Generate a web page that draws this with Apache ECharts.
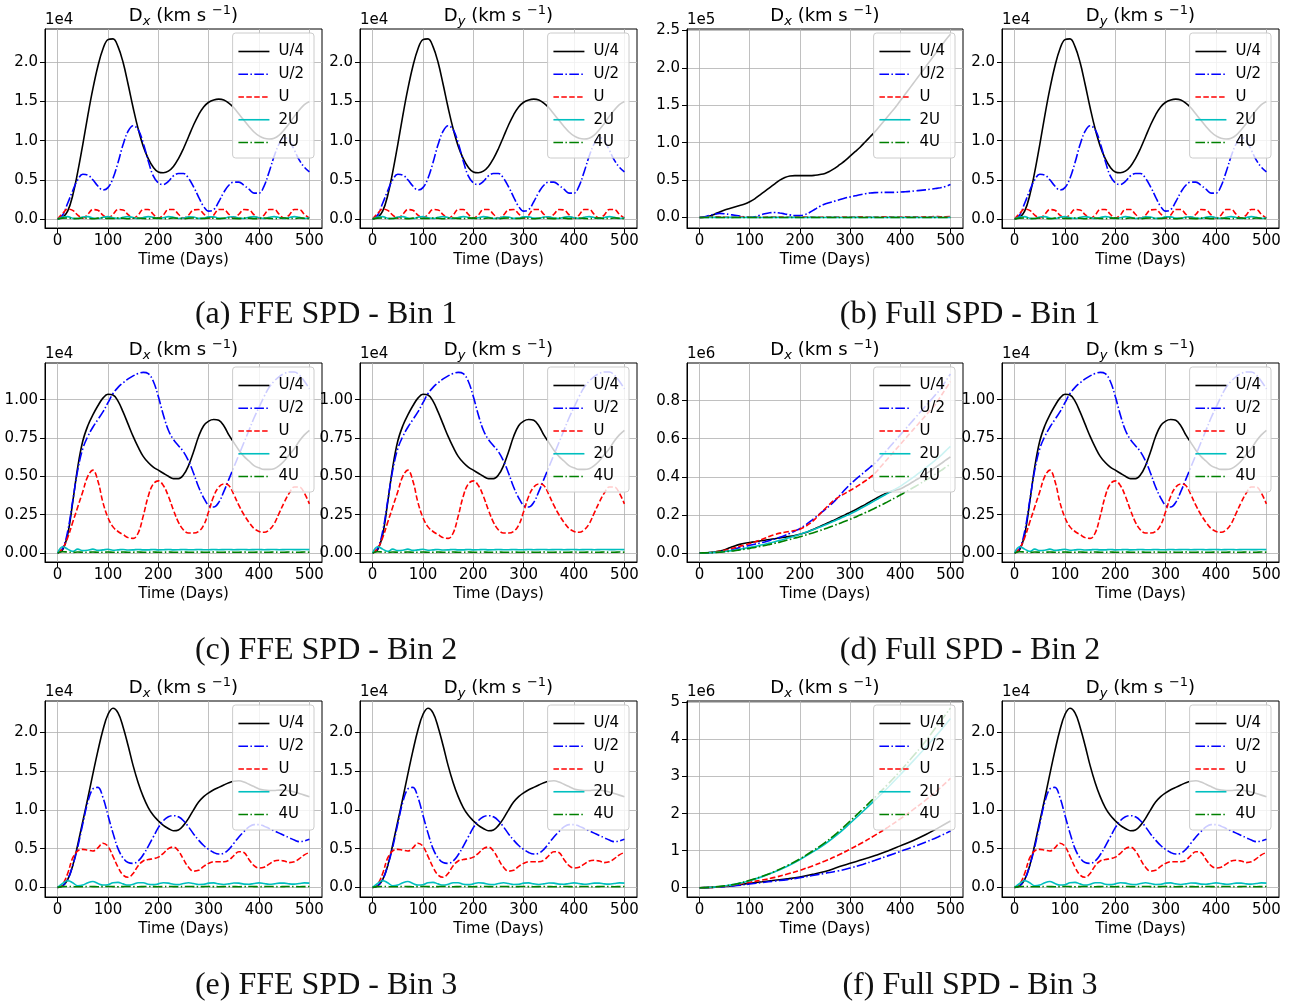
<!DOCTYPE html>
<html>
<head>
<meta charset="utf-8">
<script src="https://cdn.jsdelivr.net/npm/echarts@6/dist/echarts.min.js"></script>
<style>
  html, body { margin: 0; padding: 0; background: #ffffff; }
  #chart { width: 1295px; height: 1006px; }
</style>
</head>
<body>
<div id="chart"></div>
<script>
// ---- sampling days ----
const days = [0, 10, 20, 30, 40, 50, 60, 70, 80, 90,
  100, 110, 120, 130, 140, 150, 160, 170, 180, 190,
  200, 210, 220, 230, 240, 250, 260, 270, 280, 290,
  300, 310, 320, 330, 340, 350, 360, 370, 380, 390,
  400, 410, 420, 430, 440, 450, 460, 470, 480, 490, 500];
const daysCoarse = [0, 25, 50, 75, 100, 125, 150, 175, 200, 225, 250,
  275, 300, 325, 350, 375, 400, 425, 450, 475, 500];

// ---- FFE SPD, bin 1 (units of 1e4 km s^-1) ----
const ffe1_U4 = [0, 0.02, 0.1, 0.3, 0.6, 0.95, 1.32, 1.66, 1.95, 2.17,
  2.29, 2.3, 2.2, 2.0, 1.72, 1.42, 1.15, 0.93, 0.77, 0.66,
  0.6, 0.59, 0.61, 0.67, 0.77, 0.9, 1.05, 1.2, 1.33, 1.43,
  1.49, 1.52, 1.53, 1.52, 1.48, 1.42, 1.34, 1.26, 1.18, 1.11,
  1.06, 1.03, 1.02, 1.03, 1.07, 1.14, 1.22, 1.31, 1.39, 1.46, 1.5];
const ffe1_U2 = [0, 0.05, 0.2, 0.36, 0.5, 0.57, 0.56, 0.5, 0.42, 0.37,
  0.4, 0.52, 0.72, 0.95, 1.12, 1.19, 1.14, 0.97, 0.74, 0.55,
  0.46, 0.44, 0.48, 0.55, 0.58, 0.58, 0.52, 0.41, 0.28, 0.16,
  0.1, 0.12, 0.22, 0.34, 0.43, 0.47, 0.47, 0.43, 0.38, 0.33,
  0.33, 0.42, 0.6, 0.8, 0.96, 1.04, 1.0, 0.88, 0.75, 0.66, 0.6];
const ffe1_U1 = [0, 0.07, 0.125, 0.11, 0.05, 0.01, 0.06, 0.12, 0.11, 0.05,
  0.01, 0.06, 0.12, 0.115, 0.055, 0.01, 0.05, 0.12, 0.12, 0.06,
  0.01, 0.05, 0.12, 0.12, 0.06, 0.01, 0.05, 0.115, 0.12, 0.065,
  0.01, 0.05, 0.12, 0.12, 0.06, 0.01, 0.06, 0.12, 0.115, 0.055,
  0.01, 0.05, 0.12, 0.12, 0.06, 0.01, 0.05, 0.12, 0.12, 0.06, 0.01];
const ffe1_2U = [0, 0.025, 0.03, 0.01, 0.005, 0.025, 0.03, 0.012, 0.005, 0.022,
  0.03, 0.015, 0.005, 0.02, 0.03, 0.018, 0.005, 0.018, 0.03, 0.02,
  0.006, 0.015, 0.03, 0.022, 0.006, 0.012, 0.028, 0.025, 0.008, 0.01,
  0.027, 0.027, 0.01, 0.008, 0.025, 0.028, 0.012, 0.006, 0.022, 0.03,
  0.015, 0.005, 0.02, 0.03, 0.018, 0.005, 0.017, 0.03, 0.02, 0.006, 0.015];
const ffe1_4U = [0, 0.01, 0.012, 0.004, 0.006, 0.012, 0.008, 0.003, 0.01, 0.012,
  0.005, 0.005, 0.012, 0.009, 0.003, 0.009, 0.012, 0.006, 0.004, 0.011,
  0.011, 0.004, 0.006, 0.012, 0.008, 0.003, 0.01, 0.012, 0.005, 0.005,
  0.012, 0.009, 0.003, 0.009, 0.012, 0.006, 0.004, 0.011, 0.011, 0.004,
  0.006, 0.012, 0.008, 0.003, 0.01, 0.012, 0.005, 0.005, 0.012, 0.009, 0.004];

// ---- FFE SPD, bin 2 (units of 1e4 km s^-1) ----
const ffe2_U4 = [0, 0.02, 0.12, 0.33, 0.56, 0.73, 0.83, 0.9, 0.96, 1.01,
  1.035, 1.03, 0.99, 0.92, 0.84, 0.76, 0.69, 0.63, 0.59, 0.56,
  0.54, 0.52, 0.5, 0.485, 0.485, 0.51, 0.57, 0.66, 0.76, 0.83,
  0.86, 0.87, 0.865, 0.83, 0.77, 0.72, 0.67, 0.63, 0.6, 0.57,
  0.555, 0.545, 0.545, 0.55, 0.57, 0.6, 0.64, 0.68, 0.73, 0.77, 0.8];
const ffe2_U2 = [0, 0.03, 0.14, 0.34, 0.54, 0.68, 0.76, 0.82, 0.87, 0.92,
  0.98, 1.04, 1.08, 1.11, 1.135, 1.155, 1.17, 1.178, 1.17, 1.12,
  1.02, 0.9, 0.8, 0.74, 0.7, 0.66, 0.6, 0.52, 0.43, 0.36,
  0.31, 0.3, 0.33, 0.4, 0.48, 0.56, 0.64, 0.72, 0.8, 0.88,
  0.95, 1.02, 1.08, 1.12, 1.15, 1.17, 1.18, 1.18, 1.16, 1.12, 1.07];
const ffe2_U1 = [0, 0.03, 0.1, 0.2, 0.3, 0.4, 0.5, 0.54, 0.47, 0.33,
  0.23, 0.17, 0.14, 0.12, 0.1, 0.095, 0.13, 0.24, 0.37, 0.45,
  0.47, 0.44, 0.37, 0.28, 0.2, 0.15, 0.13, 0.13, 0.14, 0.18,
  0.27, 0.37, 0.43, 0.45, 0.44, 0.38, 0.31, 0.25, 0.2, 0.16,
  0.14, 0.135, 0.15, 0.19, 0.26, 0.33, 0.39, 0.43, 0.43, 0.39, 0.32];
const ffe2_2U = [0, 0.04, 0.025, 0.01, 0.025, 0.015, 0.018, 0.025, 0.017, 0.02,
  0.024, 0.018, 0.02, 0.023, 0.019, 0.02, 0.023, 0.02, 0.02, 0.023,
  0.02, 0.021, 0.023, 0.02, 0.021, 0.023, 0.021, 0.021, 0.023, 0.021,
  0.021, 0.023, 0.021, 0.022, 0.023, 0.021, 0.022, 0.023, 0.021, 0.022,
  0.023, 0.021, 0.022, 0.023, 0.021, 0.022, 0.023, 0.022, 0.022, 0.023, 0.022];
const ffe2_4U = [0, 0.008, 0.006, 0.004, 0.006, 0.005, 0.005, 0.006, 0.005, 0.005,
  0.006, 0.005, 0.005, 0.006, 0.005, 0.005, 0.006, 0.005, 0.005, 0.006,
  0.005, 0.005, 0.006, 0.005, 0.005, 0.006, 0.005, 0.005, 0.006, 0.005,
  0.005, 0.006, 0.005, 0.005, 0.006, 0.005, 0.005, 0.006, 0.005, 0.005,
  0.006, 0.005, 0.005, 0.006, 0.005, 0.005, 0.006, 0.005, 0.005, 0.006, 0.005];

// ---- FFE SPD, bin 3 (units of 1e4 km s^-1) ----
const ffe3_U4 = [0, 0.02, 0.1, 0.28, 0.55, 0.85, 1.15, 1.46, 1.76, 2.03,
  2.23, 2.31, 2.25, 2.07, 1.83, 1.57, 1.35, 1.17, 1.03, 0.93,
  0.86, 0.8, 0.76, 0.73, 0.74, 0.8, 0.89, 1.0, 1.1, 1.17,
  1.22, 1.26, 1.29, 1.32, 1.35, 1.37, 1.375, 1.36, 1.33, 1.3,
  1.27, 1.255, 1.25, 1.25, 1.255, 1.255, 1.245, 1.23, 1.21, 1.19, 1.17];
const ffe3_U2 = [0, 0.02, 0.1, 0.28, 0.52, 0.82, 1.1, 1.27, 1.29, 1.16,
  0.93, 0.7, 0.5, 0.38, 0.32, 0.31, 0.34, 0.42, 0.53, 0.65,
  0.77, 0.86, 0.91, 0.925, 0.91, 0.86, 0.78, 0.69, 0.61, 0.54,
  0.49, 0.45, 0.43, 0.44, 0.49, 0.57, 0.65, 0.72, 0.78, 0.81,
  0.81, 0.79, 0.76, 0.73, 0.7, 0.67, 0.64, 0.61, 0.59, 0.6, 0.62];
const ffe3_U1 = [0, 0.04, 0.18, 0.38, 0.47, 0.49, 0.48, 0.47, 0.51, 0.57,
  0.53, 0.4, 0.26, 0.16, 0.13, 0.18, 0.28, 0.34, 0.36, 0.37,
  0.39, 0.44, 0.5, 0.52, 0.47, 0.36, 0.26, 0.21, 0.22, 0.27,
  0.31, 0.33, 0.33, 0.33, 0.35, 0.41, 0.46, 0.45, 0.36, 0.28,
  0.25, 0.26, 0.3, 0.34, 0.35, 0.34, 0.32, 0.33, 0.37, 0.42, 0.45];
const ffe3_2U = [0, 0.05, 0.085, 0.06, 0.02, 0.03, 0.06, 0.075, 0.05, 0.03,
  0.035, 0.06, 0.065, 0.045, 0.03, 0.04, 0.06, 0.06, 0.04, 0.035,
  0.045, 0.06, 0.055, 0.04, 0.035, 0.05, 0.06, 0.05, 0.038, 0.04,
  0.055, 0.058, 0.045, 0.038, 0.045, 0.057, 0.055, 0.042, 0.04, 0.05,
  0.058, 0.05, 0.04, 0.045, 0.055, 0.055, 0.045, 0.042, 0.05, 0.058, 0.055];
const ffe3_4U = [0, 0.01, 0.012, 0.01, 0.008, 0.009, 0.011, 0.01, 0.009, 0.01,
  0.011, 0.01, 0.009, 0.01, 0.011, 0.01, 0.009, 0.01, 0.011, 0.01,
  0.009, 0.01, 0.011, 0.01, 0.009, 0.01, 0.011, 0.01, 0.009, 0.01,
  0.011, 0.01, 0.009, 0.01, 0.011, 0.01, 0.009, 0.01, 0.011, 0.01,
  0.009, 0.01, 0.011, 0.01, 0.009, 0.01, 0.011, 0.01, 0.009, 0.01, 0.011];

// ---- Full SPD, bin 1 (units of 1e5 km s^-1) ----
const full1_U4 = [0, 0.005, 0.02, 0.045, 0.075, 0.1, 0.12, 0.14, 0.16, 0.18,
  0.21, 0.25, 0.3, 0.35, 0.4, 0.45, 0.5, 0.535, 0.555, 0.56,
  0.56, 0.56, 0.56, 0.565, 0.575, 0.59, 0.62, 0.66, 0.71, 0.76,
  0.82, 0.88, 0.94, 1.01, 1.08, 1.15, 1.23, 1.31, 1.39, 1.47,
  1.56, 1.65, 1.74, 1.83, 1.92, 2.01, 2.1, 2.19, 2.28, 2.37, 2.45];
const full1_U2 = [0, 0.01, 0.03, 0.045, 0.055, 0.05, 0.04, 0.03, 0.02, 0.008,
  0.003, 0.01, 0.03, 0.05, 0.063, 0.067, 0.06, 0.048, 0.035, 0.025,
  0.025, 0.04, 0.07, 0.11, 0.15, 0.18, 0.2, 0.22, 0.24, 0.26,
  0.275, 0.29, 0.305, 0.318, 0.328, 0.333, 0.335, 0.336, 0.336, 0.337,
  0.34, 0.345, 0.35, 0.357, 0.363, 0.37, 0.378, 0.387, 0.398, 0.415, 0.44];
const full1_U1 = [0, 0.003, 0.008, 0.01, 0.008, 0.004, 0.002, 0.003, 0.006, 0.008,
  0.006, 0.003, 0.002, 0.004, 0.007, 0.008, 0.006, 0.004, 0.003, 0.005,
  0.007, 0.008, 0.006, 0.004, 0.004, 0.006, 0.008, 0.008, 0.006, 0.005,
  0.006, 0.008, 0.009, 0.008, 0.006, 0.006, 0.008, 0.01, 0.009, 0.007,
  0.007, 0.009, 0.011, 0.01, 0.008, 0.009, 0.011, 0.012, 0.011, 0.01, 0.012];
const full1_2U = [0, 0.001, 0.002, 0.002, 0.001, 0.001, 0.002, 0.002, 0.001, 0.001,
  0.002, 0.002, 0.001, 0.001, 0.002, 0.002, 0.001, 0.001, 0.002, 0.002,
  0.001, 0.001, 0.002, 0.002, 0.001, 0.001, 0.002, 0.002, 0.001, 0.001,
  0.002, 0.002, 0.001, 0.001, 0.002, 0.002, 0.001, 0.001, 0.002, 0.002,
  0.001, 0.001, 0.002, 0.002, 0.001, 0.001, 0.002, 0.002, 0.001, 0.001, 0.002];
const full1_4U = [0, 0.0005, 0.001, 0.001, 0.0005, 0.0005, 0.001, 0.001, 0.0005, 0.0005,
  0.001, 0.001, 0.0005, 0.0005, 0.001, 0.001, 0.0005, 0.0005, 0.001, 0.001,
  0.0005, 0.0005, 0.001, 0.001, 0.0005, 0.0005, 0.001, 0.001, 0.0005, 0.0005,
  0.001, 0.001, 0.0005, 0.0005, 0.001, 0.001, 0.0005, 0.0005, 0.001, 0.001,
  0.0005, 0.0005, 0.001, 0.001, 0.0005, 0.0005, 0.001, 0.001, 0.0005, 0.0005, 0.001];

// ---- Full SPD, bin 2 (units of 1e6 km s^-1) ----
const full2_U4 = [0, 0.0005, 0.002, 0.005, 0.01, 0.017, 0.027, 0.037, 0.045, 0.051,
  0.055, 0.059, 0.063, 0.067, 0.071, 0.075, 0.079, 0.083, 0.087, 0.092,
  0.098, 0.106, 0.116, 0.127, 0.139, 0.151, 0.163, 0.175, 0.188, 0.2,
  0.213, 0.226, 0.24, 0.254, 0.269, 0.284, 0.298, 0.311, 0.322, 0.33,
  0.336, 0.35, 0.365, 0.381, 0.397, 0.414, 0.431, 0.449, 0.467, 0.486, 0.505];
const full2_U2 = [0, 0, 0.001, 0.003, 0.006, 0.01, 0.015, 0.021, 0.028, 0.034,
  0.04, 0.046, 0.052, 0.058, 0.065, 0.073, 0.082, 0.092, 0.103, 0.115,
  0.128, 0.145, 0.164, 0.185, 0.207, 0.228, 0.25, 0.275, 0.303, 0.333,
  0.36, 0.384, 0.406, 0.428, 0.45, 0.472, 0.5, 0.53, 0.56, 0.59,
  0.62, 0.65, 0.68, 0.71, 0.74, 0.77, 0.8, 0.83, 0.86, 0.9, 0.94];
const full2_U1 = [0, 0, 0.002, 0.005, 0.009, 0.014, 0.02, 0.027, 0.035, 0.042,
  0.05, 0.058, 0.067, 0.077, 0.088, 0.097, 0.104, 0.109, 0.113, 0.118,
  0.125, 0.138, 0.155, 0.178, 0.205, 0.232, 0.258, 0.28, 0.298, 0.313,
  0.328, 0.343, 0.36, 0.378, 0.397, 0.42, 0.45, 0.48, 0.51, 0.54,
  0.57, 0.6, 0.63, 0.66, 0.69, 0.72, 0.75, 0.78, 0.82, 0.86, 0.9];
const full2_2U = [0, 0.0005, 0.0015, 0.003, 0.005, 0.008, 0.011, 0.015, 0.019, 0.024,
  0.029, 0.034, 0.04, 0.046, 0.052, 0.059, 0.066, 0.073, 0.081, 0.089,
  0.098, 0.107, 0.116, 0.126, 0.136, 0.147, 0.158, 0.169, 0.181, 0.193,
  0.205, 0.218, 0.232, 0.246, 0.261, 0.276, 0.291, 0.306, 0.32, 0.335,
  0.35, 0.368, 0.386, 0.405, 0.425, 0.445, 0.466, 0.488, 0.51, 0.535, 0.56];
const full2_4U = [0, 0.0004, 0.0012, 0.0025, 0.004, 0.006, 0.009, 0.012, 0.016, 0.02,
  0.024, 0.029, 0.034, 0.039, 0.045, 0.051, 0.057, 0.064, 0.071, 0.078,
  0.085, 0.093, 0.101, 0.109, 0.118, 0.127, 0.136, 0.146, 0.156, 0.166,
  0.177, 0.188, 0.199, 0.211, 0.223, 0.236, 0.249, 0.262, 0.276, 0.29,
  0.304, 0.319, 0.334, 0.349, 0.365, 0.381, 0.397, 0.414, 0.431, 0.449, 0.467];

// ---- Full SPD, bin 3 (units of 1e6 km s^-1), sampled on daysCoarse ----
const full3_U4 = [0, 0.01, 0.035, 0.075, 0.12, 0.16, 0.2, 0.24, 0.29, 0.36, 0.44,
  0.55, 0.66, 0.76, 0.87, 0.99, 1.13, 1.27, 1.43, 1.61, 1.8];
const full3_U2 = [0, 0.008, 0.03, 0.06, 0.1, 0.14, 0.18, 0.22, 0.27, 0.33, 0.39,
  0.45, 0.53, 0.63, 0.74, 0.86, 0.98, 1.1, 1.23, 1.37, 1.53];
const full3_U1 = [0, 0.01, 0.04, 0.09, 0.15, 0.21, 0.28, 0.37, 0.47, 0.59, 0.72,
  0.87, 1.04, 1.22, 1.42, 1.63, 1.86, 2.1, 2.36, 2.64, 2.95];
const full3_2U = [0, 0.014, 0.048, 0.105, 0.19, 0.3, 0.43, 0.58, 0.76, 0.96, 1.18,
  1.44, 1.74, 2.05, 2.37, 2.7, 3.05, 3.41, 3.78, 4.16, 4.57];
const full3_4U = [0, 0.015, 0.05, 0.11, 0.2, 0.31, 0.44, 0.6, 0.78, 0.99, 1.22,
  1.49, 1.8, 2.12, 2.45, 2.79, 3.15, 3.54, 3.95, 4.4, 4.85];

// ---- axis ticks and labels ----
const seriesNames = ['U/4', 'U/2', 'U', '2U', '4U'];
const xTicks = [0, 100, 200, 300, 400, 500];
const ticksFFE1 = [0, 0.5, 1.0, 1.5, 2.0];
const ticksFFE2 = [0, 0.25, 0.5, 0.75, 1.0];
const ticksFFE3 = [0, 0.5, 1.0, 1.5, 2.0];
const ticksFull1 = [0, 0.5, 1.0, 1.5, 2.0, 2.5];
const ticksFull2 = [0, 0.2, 0.4, 0.6, 0.8];
const ticksFull3 = [0, 1, 2, 3, 4, 5];
const captions = [
  ['(a) FFE SPD - Bin 1', '(b) Full SPD - Bin 1'],
  ['(c) FFE SPD - Bin 2', '(d) Full SPD - Bin 2'],
  ['(e) FFE SPD - Bin 3', '(f) Full SPD - Bin 3']
];

// ---- panel definitions per bin ----
const ffeBins = [
  { x: days, lines: [ffe1_U4, ffe1_U2, ffe1_U1, ffe1_2U, ffe1_4U], expo: '1e4', min: -0.1155, max: 2.4255, ticks: ticksFFE1, dec: 1 },
  { x: days, lines: [ffe2_U4, ffe2_U2, ffe2_U1, ffe2_2U, ffe2_4U], expo: '1e4', min: -0.059, max: 1.239, ticks: ticksFFE2, dec: 2 },
  { x: days, lines: [ffe3_U4, ffe3_U2, ffe3_U1, ffe3_2U, ffe3_4U], expo: '1e4', min: -0.124, max: 2.404, ticks: ticksFFE3, dec: 1 }
];
const fullBins = [
  { x: days, lines: [full1_U4, full1_U2, full1_U1, full1_2U, full1_4U], expo: '1e5', min: -0.14, max: 2.52, ticks: ticksFull1, dec: 1 },
  { x: days, lines: [full2_U4, full2_U2, full2_U1, full2_2U, full2_4U], expo: '1e6', min: -0.0475, max: 0.9975, ticks: ticksFull2, dec: 1 },
  { x: daysCoarse, lines: [full3_U4, full3_U2, full3_U1, full3_2U, full3_4U], expo: '1e6', min: -0.25, max: 5.04, ticks: ticksFull3, dec: 0 }
];

// ---- layout ----
const W = 1295;
const cols = [{ left: 45, width: 277 }, { left: 360, width: 277 }, { left: 687, width: 276 }, { left: 1002, width: 277 }];
const rows = [{ top: 29, height: 199, capY: 315 }, { top: 363, height: 199, capY: 651 }, { top: 701, height: 196, capY: 986 }];
const captionX = [326, 970];

const FONT = '"DejaVu Sans", sans-serif';
const lineLooks = [
  { color: '#000000', type: 'solid' },
  { color: '#0000ff', type: [9.6, 2.4, 1.5, 2.4] },
  { color: '#ff0000', type: [5.5, 2.4] },
  { color: '#00bfbf', type: 'solid' },
  { color: '#008000', type: [9.6, 2.4, 1.5, 2.4] }
];

const grids = [], xAxes = [], yAxes = [], series = [], legends = [], graphics = [];

rows.forEach((row, r) => {
  const panels = [
    { bin: ffeBins[r], comp: 'x' },
    { bin: ffeBins[r], comp: 'y' },
    { bin: fullBins[r], comp: 'x' },
    { bin: ffeBins[r], comp: 'y' }
  ];
  panels.forEach((p, c) => {
    const idx = grids.length;
    const col = cols[c];
    const bin = p.bin;
    grids.push({
      left: col.left, top: row.top, width: col.width, height: row.height,
      show: true, borderColor: '#000000', borderWidth: 1, backgroundColor: 'transparent',
      containLabel: false, outerBoundsMode: 'none'
    });
    xAxes.push({
      type: 'value', gridIndex: idx, min: -25, max: 525,
      axisLine: { show: true, onZero: false, lineStyle: { color: '#000000', width: 1 } },
      axisTick: { show: true, length: 5, customValues: xTicks, lineStyle: { color: '#000000', width: 1 } },
      axisLabel: { customValues: xTicks, fontFamily: FONT, fontSize: 15, color: '#000000', margin: 6 },
      splitLine: { show: true, lineStyle: { color: '#b0b0b0', width: 0.8 } },
      name: 'Time (Days)', nameLocation: 'middle', nameGap: 25, nameMoveOverlap: false,
      nameTextStyle: { fontFamily: FONT, fontSize: 15, color: '#000000' }
    });
    yAxes.push({
      type: 'value', gridIndex: idx, min: bin.min, max: bin.max,
      axisLine: { show: true, onZero: false, lineStyle: { color: '#000000', width: 1 } },
      axisTick: { show: true, length: 5, customValues: bin.ticks, lineStyle: { color: '#000000', width: 1 } },
      axisLabel: {
        customValues: bin.ticks, fontFamily: FONT, fontSize: 15, color: '#000000', margin: 7,
        formatter: (v) => Number(v).toFixed(bin.dec)
      },
      splitLine: { show: true, lineStyle: { color: '#b0b0b0', width: 0.8 } },
      name: bin.expo, nameLocation: 'end', nameGap: 1, nameMoveOverlap: false,
      nameTextStyle: { fontFamily: FONT, fontSize: 15, color: '#000000', align: 'left', verticalAlign: 'bottom' }
    });
    bin.lines.forEach((vals, k) => {
      series.push({
        type: 'line', name: seriesNames[k], xAxisIndex: idx, yAxisIndex: idx,
        data: bin.x.map((d, i) => [d, vals[i]]),
        symbol: 'none', showSymbol: false, smooth: 0.4, clip: true, silent: true,
        lineStyle: { color: lineLooks[k].color, width: 1.6, type: lineLooks[k].type },
        itemStyle: { color: lineLooks[k].color },
        emphasis: { disabled: true }
      });
    });
    legends.push({
      orient: 'vertical', right: W - (col.left + col.width - 8), top: row.top + 4,
      data: seriesNames, selectedMode: false,
      itemWidth: 31, itemHeight: 14, itemGap: 7.75, padding: [11, 10, 8, 5],
      backgroundColor: 'rgba(255,255,255,0.8)', borderColor: '#cccccc', borderWidth: 1, borderRadius: 3,
      textStyle: { fontFamily: FONT, fontSize: 15, color: '#000000', lineHeight: 14, padding: [0, 0, 0, 4] },
      itemStyle: { color: 'rgba(0,0,0,0)', borderColor: 'rgba(0,0,0,0)', borderWidth: 0 },
      lineStyle: { width: 1.6 }
    });
    // panel title: D_x / D_y (km s^-1)
    graphics.push({
      type: 'text', x: col.left + col.width / 2, y: row.top - 13, silent: true,
      style: {
        text: '{m|D}{s|' + p.comp + '}{m| (km s }{p|\u22121}{m|)}',
        align: 'center', verticalAlign: 'middle',
        rich: {
          m: { fontFamily: FONT, fontSize: 18, lineHeight: 24, fill: '#000000' },
          s: { fontFamily: FONT, fontSize: 13, fontStyle: 'italic', lineHeight: 12, verticalAlign: 'bottom', fill: '#000000' },
          p: { fontFamily: FONT, fontSize: 13, lineHeight: 12, verticalAlign: 'top', fill: '#000000' }
        }
      }
    });
  });
  captions[r].forEach((txt, j) => {
    graphics.push({
      type: 'text', x: captionX[j], y: row.capY, silent: true,
      style: {
        text: txt, align: 'center', verticalAlign: 'middle',
        font: '32px "Liberation Serif", "DejaVu Serif", serif', fill: '#111111'
      }
    });
  });
});

const chart = echarts.init(document.getElementById('chart'), null, { renderer: 'canvas', width: 1295, height: 1006 });
chart.setOption({
  backgroundColor: '#ffffff',
  animation: false,
  grid: grids,
  xAxis: xAxes,
  yAxis: yAxes,
  legend: legends,
  series: series,
  graphic: graphics
});
</script>
</body>
</html>
